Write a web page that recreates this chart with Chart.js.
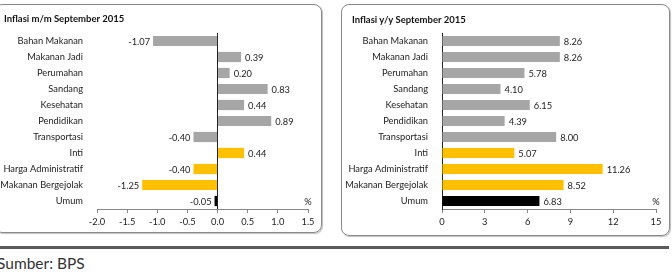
<!DOCTYPE html>
<html>
<head>
<meta charset="utf-8">
<script src="https://cdn.jsdelivr.net/npm/chart.js@4"></script>
<style>
  body { margin: 0; width: 672px; height: 275px; background: #fff; position: relative; overflow: hidden; font-family: Lato, sans-serif; }
  .panel { position: absolute; border: 1px solid #8a8a8a; border-radius: 8px; box-shadow: 1px 1px 1px rgba(0,0,0,0.25); }
  canvas { position: absolute; }
  .title { position: absolute; font-family: Lato, sans-serif; font-weight: bold; font-size: 9.5px; line-height: 12px; color: #111; }
  .rule { position: absolute; left: 0; top: 246px; width: 669px; height: 3px; background: #5a5a5a; }
  .source { position: absolute; left: -3px; top: 254px; font-family: Lato, sans-serif; font-size: 15.5px; color: #333; }
</style>
</head>
<body>
<div class="panel" style="left:-6px; top:4px; width:326px; height:227px;"></div>
<div class="panel" style="left:341px; top:4px; width:327px; height:230px;"></div>
<canvas id="mtmChart" width="322" height="227" style="left:0; top:5px;"></canvas>
<canvas id="yoyChart" width="328" height="230" style="left:341px; top:5px;"></canvas>
<div class="title" style="left:4px; top:13px;">Inflasi m/m September 2015</div>
<div class="title" style="left:352px; top:14px;">Inflasi y/y September 2015</div>
<div class="rule"></div>
<div class="source">Sumber: BPS</div>
<script>
const categories = ['Bahan Makanan', 'Makanan Jadi', 'Perumahan', 'Sandang', 'Kesehatan', 'Pendidikan',
  'Transportasi', 'Inti', 'Harga Administratif', 'Makanan Bergejolak', 'Umum'];
const mtmValues = [-1.07, 0.39, 0.20, 0.83, 0.44, 0.89, -0.40, 0.44, -0.40, -1.25, -0.05];
const yoyValues = [8.26, 8.26, 5.78, 4.10, 6.15, 4.39, 8.00, 5.07, 11.26, 8.52, 6.83];
const barColors = ['#a6a6a6', '#a6a6a6', '#a6a6a6', '#a6a6a6', '#a6a6a6', '#a6a6a6', '#a6a6a6',
  '#ffc000', '#ffc000', '#ffc000', '#000000'];

const textColor = '#222';
const fontFamily = 'Lato, sans-serif';
const fontSize = 9.3;

// value labels beside each bar plus the "%" unit mark
const barLabels = {
  id: 'barLabels',
  afterDatasetsDraw(chart) {
    const ctx = chart.ctx;
    const meta = chart.getDatasetMeta(0);
    const values = chart.data.datasets[0].data;
    ctx.save();
    ctx.font = fontSize + 'px ' + fontFamily;
    ctx.fillStyle = textColor;
    ctx.textBaseline = 'middle';
    meta.data.forEach((bar, i) => {
      const v = values[i];
      if (v >= 0) {
        ctx.textAlign = 'left';
        ctx.fillText(v.toFixed(2), bar.x + 4, bar.y + 1);
      } else {
        ctx.textAlign = 'right';
        ctx.fillText(v.toFixed(2), bar.x - 3, bar.y + 1);
      }
    });
    ctx.textAlign = 'center';
    ctx.fillText('%', chart.chartArea.right, chart.chartArea.bottom - 7);
    ctx.restore();
  }
};

function makeChart(id, values, xOpts, yWidth, xHeight, padRight, zeroLine) {
  return new Chart(document.getElementById(id), {
    type: 'bar',
    data: {
      labels: categories,
      datasets: [{
        data: values,
        backgroundColor: barColors,
        categoryPercentage: 1,
        barPercentage: 0.64
      }]
    },
    options: {
      indexAxis: 'y',
      responsive: false,
      animation: false,
      layout: { padding: { left: 0, right: padRight, top: 28, bottom: 0 } },
      plugins: {
        legend: { display: false },
        tooltip: { enabled: false }
      },
      scales: {
        x: {
          min: xOpts.min,
          max: xOpts.max,
          afterFit: (scale) => { scale.height = xHeight; },
          ticks: {
            stepSize: xOpts.step,
            padding: 3,
            color: textColor,
            font: { family: fontFamily, size: fontSize },
            callback: xOpts.format
          },
          grid: {
            drawOnChartArea: zeroLine,
            color: (c) => (c.tick && c.tick.value === 0 ? '#222' : 'rgba(0,0,0,0)'),
            tickColor: '#888',
            tickLength: 4
          },
          border: { display: true, color: '#888' }
        },
        y: {
          afterFit: (scale) => { scale.width = yWidth; },
          ticks: {
            padding: 6,
            color: textColor,
            font: { family: fontFamily, size: fontSize }
          },
          grid: { display: false },
          border: { display: !zeroLine, color: '#222' }
        }
      }
    },
    plugins: [barLabels]
  });
}

makeChart('mtmChart', mtmValues,
  { min: -2, max: 1.5, step: 0.5, format: (v) => Number(v).toFixed(1) },
  97, 23, 14, true);

makeChart('yoyChart', yoyValues,
  { min: 0, max: 15, step: 3, format: (v) => v },
  101, 26, 13, false);
</script>
</body>
</html>
